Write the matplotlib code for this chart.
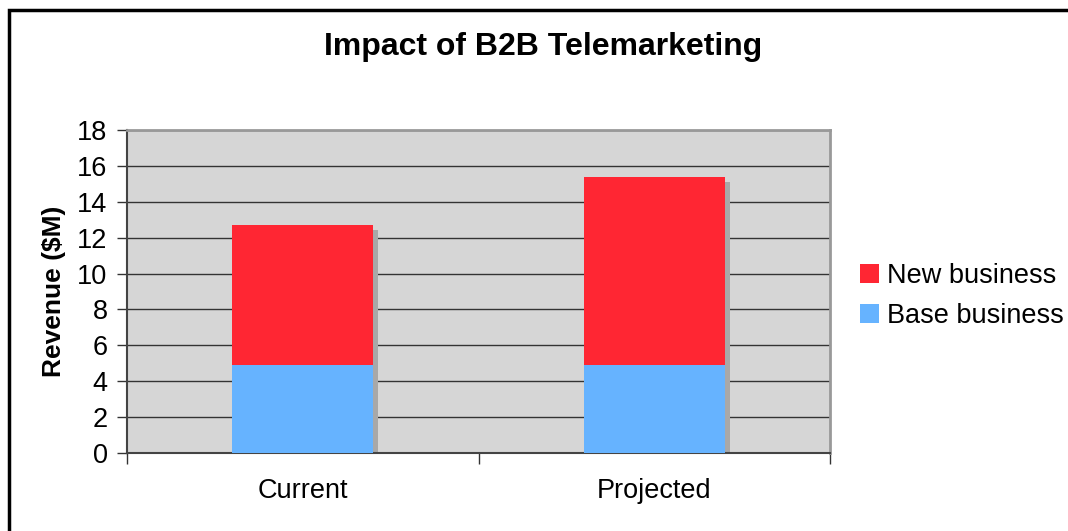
import matplotlib
matplotlib.use("Agg")
import matplotlib.pyplot as plt
from matplotlib.patches import Rectangle
import numpy as np

categories = ["Current", "Projected"]
base_business = [4.9, 4.9]
new_business = [7.8, 10.5]
y_ticks = [0, 2, 4, 6, 8, 10, 12, 14, 16, 18]

plt.rcParams['font.family'] = ['Liberation Sans', 'DejaVu Sans']

W, H = 1068, 531
fig = plt.figure(figsize=(W / 100, H / 100), dpi=100)

# outer frame
fig.patches.append(Rectangle((9 / W, -0.1), 1.2, 1 - 10 / H + 0.1, transform=fig.transFigure,
                             fill=False, edgecolor='black', linewidth=2.5, zorder=0))

ax = fig.add_axes([127 / W, 1 - 453 / H, (830 - 127) / W, (453 - 130) / H])
ax.set_facecolor('#d6d6d6')

x = np.arange(len(categories))
width = 0.4
# shadows
tot = np.array(base_business) + np.array(new_business)
dx = 5 * 2.0 / 703
dy = 5 * 18.0 / 323
ax.bar(x + dx, tot - dy, width, bottom=0, color='#a8a8a8', zorder=2)
ax.bar(x, base_business, width, color='#66b3ff', label='Base business', zorder=3)
ax.bar(x, new_business, width, bottom=base_business, color='#ff2633', label='New business', zorder=3)

ax.set_xlim(-0.5, 1.5)
ax.set_ylim(0, 18)
ax.set_yticks(y_ticks)
ax.set_yticklabels([str(t) for t in y_ticks], fontsize=19.5)
ax.yaxis.grid(True, color='#333333', linewidth=1)
ax.set_axisbelow(True)
ax.set_xticks([-0.5, 0.5, 1.5])
ax.set_xticklabels(["", "", ""])
ax.set_xticks(x, minor=True)
ax.set_xticklabels(categories, minor=True, fontsize=19.5)
ax.tick_params(axis='x', which='minor', length=0, pad=18)
ax.tick_params(axis='x', which='major', length=8, color='#333333', width=1)
ax.tick_params(axis='y', length=7, color='#333333', width=1, pad=7)

for s in ['top', 'right']:
    ax.spines[s].set_color('#999999')
    ax.spines[s].set_linewidth(2)
for s in ['left', 'bottom']:
    ax.spines[s].set_color('#444444')
    ax.spines[s].set_linewidth(1.5)

ax.set_ylabel('Revenue ($M)', fontsize=19, fontweight='bold', labelpad=8)

fig.text(543 / W, 1 - 47 / H, 'Impact of B2B Telemarketing', ha='center', va='center',
         fontsize=23, fontweight='bold')

handles, labels = ax.get_legend_handles_labels()
leg = fig.legend(handles[::-1], labels[::-1], loc='center left',
                 bbox_to_anchor=(860 / W, 1 - 296 / H), frameon=False, fontsize=19.5,
                 handlelength=0.7, handleheight=0.7, handletextpad=0.3, labelspacing=0.52,
                 borderaxespad=0, borderpad=0)

fig.savefig('out.png', dpi=100)
